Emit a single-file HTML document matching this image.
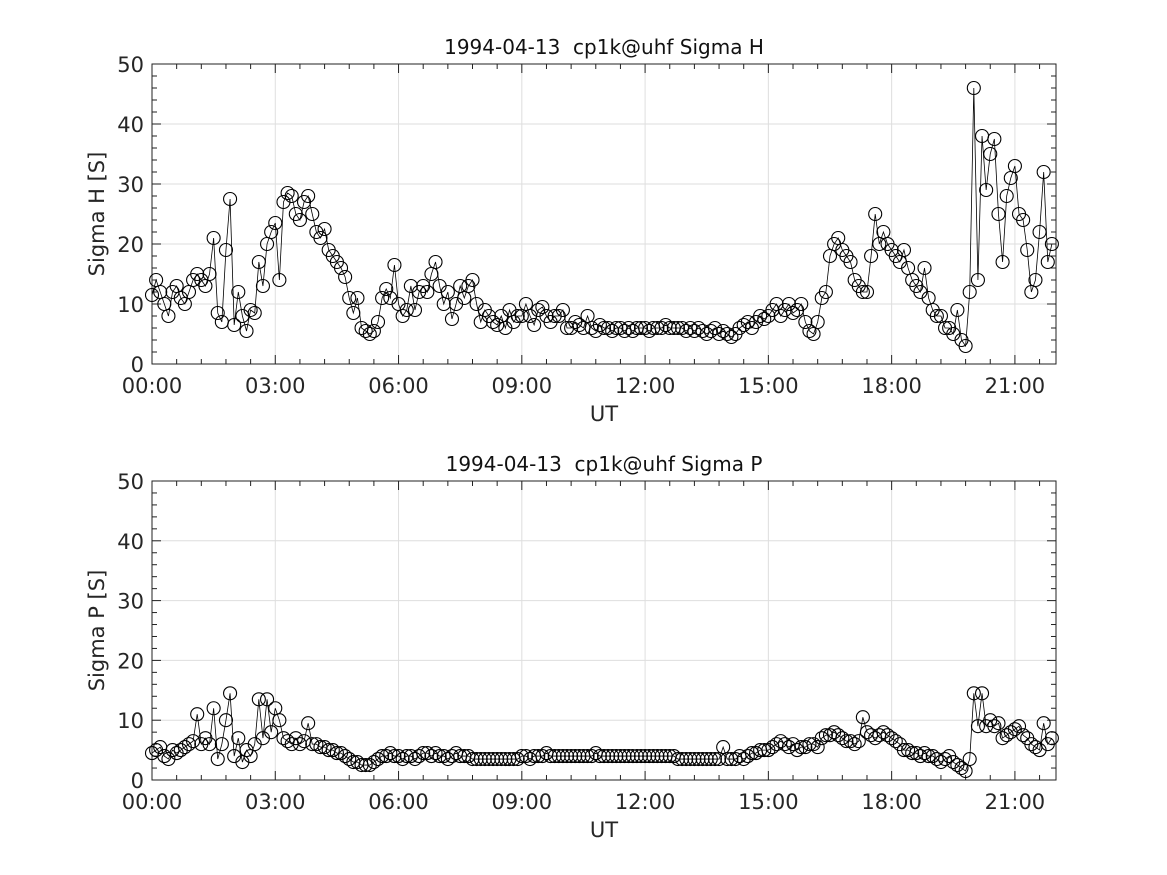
<!DOCTYPE html>
<html><head><meta charset="utf-8"><style>
html,body{margin:0;padding:0;background:#fff;}
svg{display:block;font-family:"DejaVu Sans","Liberation Sans",sans-serif;}
text{white-space:pre;}
</style></head><body>
<svg id="fig" width="1167" height="875" viewBox="0 0 1167 875"></svg>
<script>
const hoursStart = 0.0, hourStep = 0.1;
const sigmaH = [
11.5,14,12,10,8,12,13,11,10,12,
14,15,14,13,15,21,8.5,7,19,27.5,
6.5,12,8,5.5,9,8.5,17,13,20,22,
23.5,14,27,28.5,28,25,24,27,28,25,
22,21,22.5,19,18,17,16,14.5,11,8.5,
11,6,5.5,5,5.5,7,11,12.5,11,16.5,
10,8,9,13,9,12,13,12,15,17,
13,10,12,7.5,10,13,11,13,14,10,
7,9,8,7,6.5,8,6,9,7,8,
8,10,8,6.5,9,9.5,8,7,8,8,
9,6,6,7,6.5,6,8,6,5.5,6.5,
6,6,5.5,6,6,5.5,6,5.5,6,6,
6,5.5,6,6,6,6.5,6,6,6,6,
5.5,6,5.5,6,5.5,5,5.5,6,5,5.5,
5,4.5,5,6,6.5,7,6,7,8,7.5,
8,9,10,8,9,10,8.5,9,10,7,
5.5,5,7,11,12,18,20,21,19,18,
17,14,13,12,12,18,25,20,22,20,
19,18,17,19,16,14,13,12,16,11,
9,8,8,6,6,5,9,4,3,12,
46,14,38,29,35,37.5,25,17,28,31,
33,25,24,19,12,14,22,32,17,20];
const sigmaP = [
4.5,5,5.5,4,3.5,5,4.5,5,5.5,6,
6.5,11,6,7,6,12,3.5,6,10,14.5,
4,7,3,5,4,6,13.5,7,13.5,8,
12,10,7,6.5,6,7,6,6.5,9.5,6,
6,5.5,5.5,5,5,4.5,4.5,4,3.5,3,
3,2.5,2.5,2.5,3,3.5,4,4,4.5,4,
4,3.5,4,4,3.5,4,4.5,4.5,4,4.5,
4,4,3.5,4,4.5,4,4,4,3.5,3.5,
3.5,3.5,3.5,3.5,3.5,3.5,3.5,3.5,3.5,3.5,
4,4,3.5,4,4,4,4.5,4,4,4,
4,4,4,4,4,4,4,4,4.5,4,
4,4,4,4,4,4,4,4,4,4,
4,4,4,4,4,4,4,4,3.5,3.5,
3.5,3.5,3.5,3.5,3.5,3.5,3.5,3.5,3.5,5.5,
3.5,3.5,3.5,4,3.5,4,4.5,4.5,5,5,
5,5.5,6,6.5,6,5.5,6,5,5.5,5.5,
6,6,5.5,7,7.5,7.5,8,7.5,7,6.5,
6.5,6,6.5,10.5,8,7.5,7,7.5,8,7.5,
7,6.5,6,5,5,4.5,4.5,4,4.5,4,
4,3.5,3,3.5,4,3,2.5,2,1.5,3.5,
14.5,9,14.5,9,10,9,9.5,7,7.5,8,
8.5,9,7.5,7,6,5.5,5,9.5,6,7];
const xTickLabels = ["00:00","03:00","06:00","09:00","12:00","15:00","18:00","21:00"];
const yTickLabels = ["0","10","20","30","40","50"];

const NS="http://www.w3.org/2000/svg";
const svg=document.getElementById('fig');
function mk(tag,attrs,parent){const e=document.createElementNS(NS,tag);for(const k in attrs)e.setAttribute(k,attrs[k]);(parent||svg).appendChild(e);return e;}

function panel(key,top,bottom,values,title,ylabel){
  const L=152,R=1056,xmax=22,ymax=50;
  const X=h=>L+(R-L)*h/xmax;
  const Y=v=>bottom-(bottom-top)*v/ymax;
  const g=mk('g',{});
  
  
  for(let i=0;i<xTickLabels.length;i++){const x=X(i*3);mk('line',{x1:x,x2:x,y1:top,y2:bottom,stroke:'#dedede','stroke-width':1},g);}
  for(let i=0;i<yTickLabels.length;i++){const y=Y(i*10);mk('line',{x1:L,x2:R,y1:y,y2:y,stroke:'#dedede','stroke-width':1},g);}
  for(let h=0;h<=xmax+1e-6;h+=0.6){const x=X(h);const major=Math.abs(h/3-Math.round(h/3))<1e-3;const l=major?9:5;
    mk('line',{x1:x,x2:x,y1:bottom,y2:bottom-l,stroke:'#222'},g);mk('line',{x1:x,x2:x,y1:top,y2:top+l,stroke:'#222'},g);}
  for(let v=0;v<=50;v+=2){const y=Y(v);const l=(v%10===0)?9:5;
    mk('line',{x1:L,x2:L+l,y1:y,y2:y,stroke:'#222'},g);mk('line',{x1:R,x2:R-l,y1:y,y2:y,stroke:'#222'},g);}
  mk('rect',{x:L,y:top,width:R-L,height:bottom-top,fill:'none',stroke:'#222','stroke-width':1},g);
  xTickLabels.forEach((t,i)=>{const e=mk('text',{x:X(i*3),y:bottom+29,'text-anchor':'middle','font-size':21,fill:'#262626'},g);e.textContent=t;
    });
  yTickLabels.forEach((t,i)=>{const e=mk('text',{x:L-8,y:Y(i*10)+8,'text-anchor':'end','font-size':21,fill:'#262626'},g);e.textContent=t;
    });
  const tt=mk('text',{x:604,y:top-10,'text-anchor':'middle','font-size':20,fill:'#111'},g);tt.textContent=title;
  
  const xl=mk('text',{x:604,y:bottom+57,'text-anchor':'middle','font-size':21,fill:'#262626'},g);xl.textContent='UT';
  
  const cy=(top+bottom)/2;
  const yl=mk('text',{x:104,y:cy,'text-anchor':'middle','font-size':21,fill:'#262626',transform:`rotate(-90 104 ${cy})`},g);yl.textContent=ylabel;
  
  const pts=values.map((v,i)=>[X(hoursStart+i*hourStep),Y(Math.min(v,ymax))]);
  const pl=mk('polyline',{points:pts.map(p=>p.join(',')).join(' '),fill:'none',stroke:'#000','stroke-width':0.8},g);
  
  pts.forEach(p=>{const c=mk('circle',{cx:p[0],cy:p[1],r:6.5,fill:'none',stroke:'#000','stroke-width':1.1},g);
    });
}
panel('sigma-h',64,364,sigmaH,'1994-04-13  cp1k@uhf Sigma H','Sigma H [S]');
panel('sigma-p',481,780,sigmaP,'1994-04-13  cp1k@uhf Sigma P','Sigma P [S]');
</script>
</body></html>
